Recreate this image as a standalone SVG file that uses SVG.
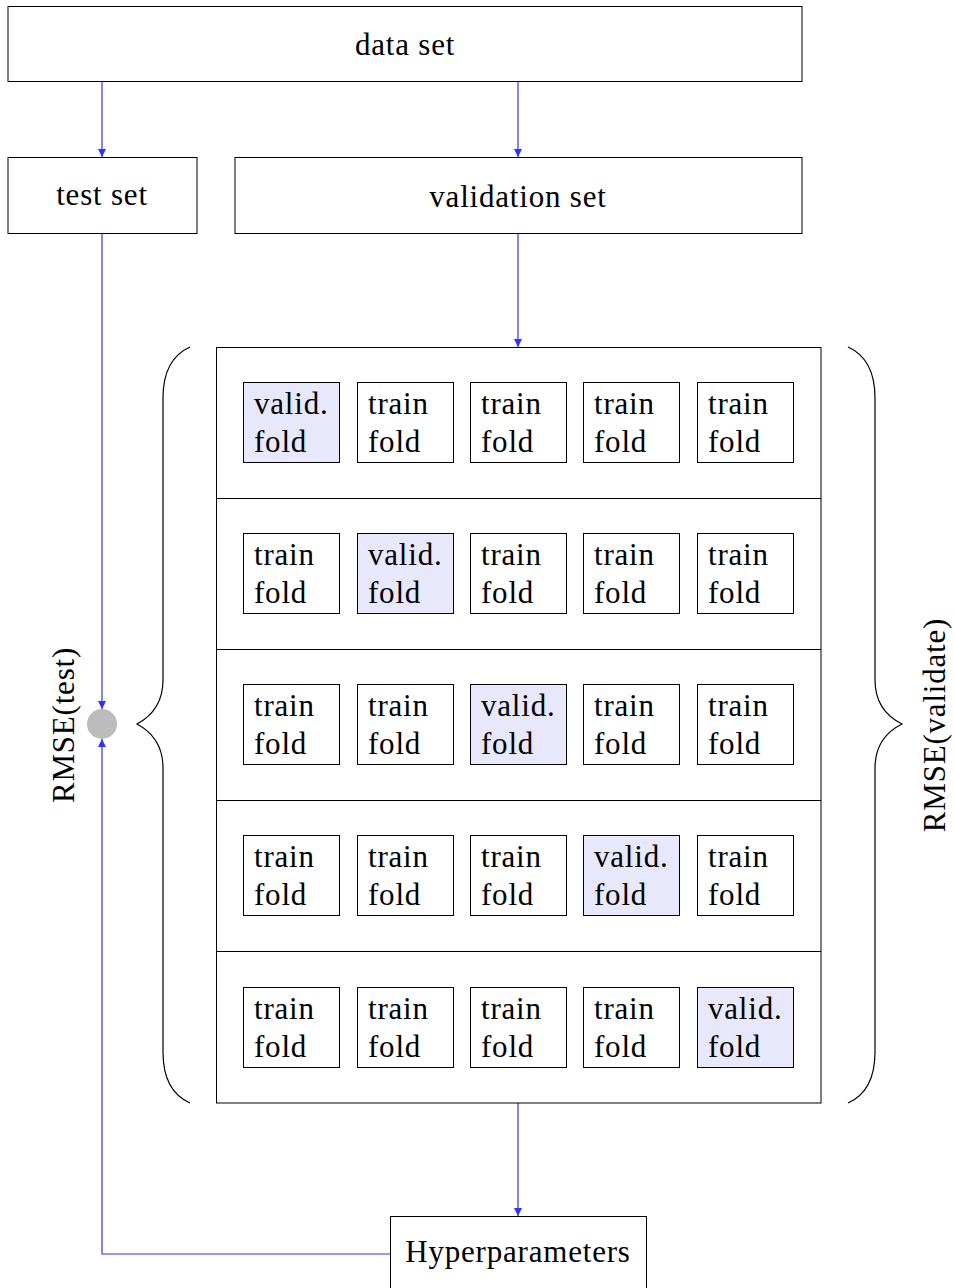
<svg xmlns="http://www.w3.org/2000/svg" width="954" height="1288" viewBox="0 0 954 1288">
  <style>
    .box { fill: #ffffff; stroke: #000000; stroke-width: 1; }
    .fold { fill: #ffffff; stroke: #000000; stroke-width: 1; }
    .valid { fill: #e8e8fc; }
    .lbl { font-family: "Liberation Serif", "Times New Roman", serif; font-size: 31px; letter-spacing: 0.8px; fill: #000000; }
    .mid { text-anchor: middle; }
    .edge { fill: none; stroke: #3030ff; stroke-width: 1.2; }
    .brace { fill: none; stroke: #000000; stroke-width: 1.2; }
  </style>
  <defs>
    <marker id="arrow" viewBox="0 0 10 10" refX="10" refY="5" markerWidth="8" markerHeight="8" markerUnits="userSpaceOnUse" orient="auto">
      <path d="M0,0 L10,5 L0,10 z" fill="#3030ff"/>
    </marker>
  </defs>

  <rect width="954" height="1288" fill="#ffffff"/>

  <!-- connectors -->
  <g id="connectors">
    <line class="edge" x1="102" y1="81" x2="102" y2="157" marker-end="url(#arrow)"/>
    <line class="edge" x1="518" y1="81" x2="518" y2="157" marker-end="url(#arrow)"/>
    <line class="edge" x1="518" y1="233" x2="518" y2="347" marker-end="url(#arrow)"/>
    <line class="edge" x1="102" y1="233" x2="102" y2="709" marker-end="url(#arrow)"/>
    <line class="edge" x1="518" y1="1103" x2="518" y2="1216" marker-end="url(#arrow)"/>
    <polyline class="edge" points="390,1254 102,1254 102,739" marker-end="url(#arrow)"/>
  </g>

  <g id="data-set">
    <rect class="box" x="8" y="6.5" width="794" height="75"/>
    <text class="lbl mid" x="405" y="55">data set</text>
  </g>

  <g id="test-set">
    <rect class="box" x="8" y="157.5" width="189" height="76"/>
    <text class="lbl mid" x="102" y="205">test set</text>
  </g>

  <g id="validation-set">
    <rect class="box" x="235" y="157.5" width="567" height="76"/>
    <text class="lbl mid" x="518" y="207">validation set</text>
  </g>

  <!-- cross-validation grid -->
  <g id="cv-grid">
    <rect class="box" x="216.5" y="347.5" width="604.5" height="755.5"/>
    <line stroke="#000" stroke-width="1" x1="216.5" y1="498.5" x2="821" y2="498.5"/>
    <line stroke="#000" stroke-width="1" x1="216.5" y1="649.5" x2="821" y2="649.5"/>
    <line stroke="#000" stroke-width="1" x1="216.5" y1="800.5" x2="821" y2="800.5"/>
    <line stroke="#000" stroke-width="1" x1="216.5" y1="951.5" x2="821" y2="951.5"/>
  </g>

  <g id="row-1">
    <rect class="fold valid" x="243.5" y="382.5" width="96" height="80"/>
    <text class="lbl" x="254" y="414">valid.</text><text class="lbl" x="254" y="452">fold</text>
    <rect class="fold" x="357.5" y="382.5" width="96" height="80"/>
    <text class="lbl" x="368" y="414">train</text><text class="lbl" x="368" y="452">fold</text>
    <rect class="fold" x="470.5" y="382.5" width="96" height="80"/>
    <text class="lbl" x="481" y="414">train</text><text class="lbl" x="481" y="452">fold</text>
    <rect class="fold" x="583.5" y="382.5" width="96" height="80"/>
    <text class="lbl" x="594" y="414">train</text><text class="lbl" x="594" y="452">fold</text>
    <rect class="fold" x="697.5" y="382.5" width="96" height="80"/>
    <text class="lbl" x="708" y="414">train</text><text class="lbl" x="708" y="452">fold</text>
  </g>

  <g id="row-2">
    <rect class="fold" x="243.5" y="533.5" width="96" height="80"/>
    <text class="lbl" x="254" y="565">train</text><text class="lbl" x="254" y="603">fold</text>
    <rect class="fold valid" x="357.5" y="533.5" width="96" height="80"/>
    <text class="lbl" x="368" y="565">valid.</text><text class="lbl" x="368" y="603">fold</text>
    <rect class="fold" x="470.5" y="533.5" width="96" height="80"/>
    <text class="lbl" x="481" y="565">train</text><text class="lbl" x="481" y="603">fold</text>
    <rect class="fold" x="583.5" y="533.5" width="96" height="80"/>
    <text class="lbl" x="594" y="565">train</text><text class="lbl" x="594" y="603">fold</text>
    <rect class="fold" x="697.5" y="533.5" width="96" height="80"/>
    <text class="lbl" x="708" y="565">train</text><text class="lbl" x="708" y="603">fold</text>
  </g>

  <g id="row-3">
    <rect class="fold" x="243.5" y="684.5" width="96" height="80"/>
    <text class="lbl" x="254" y="716">train</text><text class="lbl" x="254" y="754">fold</text>
    <rect class="fold" x="357.5" y="684.5" width="96" height="80"/>
    <text class="lbl" x="368" y="716">train</text><text class="lbl" x="368" y="754">fold</text>
    <rect class="fold valid" x="470.5" y="684.5" width="96" height="80"/>
    <text class="lbl" x="481" y="716">valid.</text><text class="lbl" x="481" y="754">fold</text>
    <rect class="fold" x="583.5" y="684.5" width="96" height="80"/>
    <text class="lbl" x="594" y="716">train</text><text class="lbl" x="594" y="754">fold</text>
    <rect class="fold" x="697.5" y="684.5" width="96" height="80"/>
    <text class="lbl" x="708" y="716">train</text><text class="lbl" x="708" y="754">fold</text>
  </g>

  <g id="row-4">
    <rect class="fold" x="243.5" y="835.5" width="96" height="80"/>
    <text class="lbl" x="254" y="867">train</text><text class="lbl" x="254" y="905">fold</text>
    <rect class="fold" x="357.5" y="835.5" width="96" height="80"/>
    <text class="lbl" x="368" y="867">train</text><text class="lbl" x="368" y="905">fold</text>
    <rect class="fold" x="470.5" y="835.5" width="96" height="80"/>
    <text class="lbl" x="481" y="867">train</text><text class="lbl" x="481" y="905">fold</text>
    <rect class="fold valid" x="583.5" y="835.5" width="96" height="80"/>
    <text class="lbl" x="594" y="867">valid.</text><text class="lbl" x="594" y="905">fold</text>
    <rect class="fold" x="697.5" y="835.5" width="96" height="80"/>
    <text class="lbl" x="708" y="867">train</text><text class="lbl" x="708" y="905">fold</text>
  </g>

  <g id="row-5">
    <rect class="fold" x="243.5" y="987.5" width="96" height="80"/>
    <text class="lbl" x="254" y="1019">train</text><text class="lbl" x="254" y="1057">fold</text>
    <rect class="fold" x="357.5" y="987.5" width="96" height="80"/>
    <text class="lbl" x="368" y="1019">train</text><text class="lbl" x="368" y="1057">fold</text>
    <rect class="fold" x="470.5" y="987.5" width="96" height="80"/>
    <text class="lbl" x="481" y="1019">train</text><text class="lbl" x="481" y="1057">fold</text>
    <rect class="fold" x="583.5" y="987.5" width="96" height="80"/>
    <text class="lbl" x="594" y="1019">train</text><text class="lbl" x="594" y="1057">fold</text>
    <rect class="fold valid" x="697.5" y="987.5" width="96" height="80"/>
    <text class="lbl" x="708" y="1019">valid.</text><text class="lbl" x="708" y="1057">fold</text>
  </g>

  <!-- braces -->
  <g id="brace-left">
    <path class="brace" d="M190,347 C172,355 163,372 163,398 L163,680 C163,705 150,717 137,724 C150,731 163,743 163,768 L163,1052 C163,1078 172,1095 190,1103"/>
  </g>
  <g id="brace-right">
    <path class="brace" d="M848,347 C866,355 875,372 875,398 L875,680 C875,705 888,717 902,724 C888,731 875,743 875,768 L875,1052 C875,1078 866,1095 848,1103"/>
  </g>

  <g id="rmse-test">
    <circle cx="102" cy="724" r="15" fill="#bcbcbc"/>
    <text class="lbl mid" transform="translate(74,725) rotate(-90)">RMSE(test)</text>
  </g>

  <g id="rmse-validate">
    <text class="lbl mid" transform="translate(945,725) rotate(-90)">RMSE(validate)</text>
  </g>

  <g id="hyperparameters">
    <rect class="box" x="390.5" y="1216.5" width="256" height="80"/>
    <text class="lbl mid" x="518" y="1262">Hyperparameters</text>
  </g>
</svg>
